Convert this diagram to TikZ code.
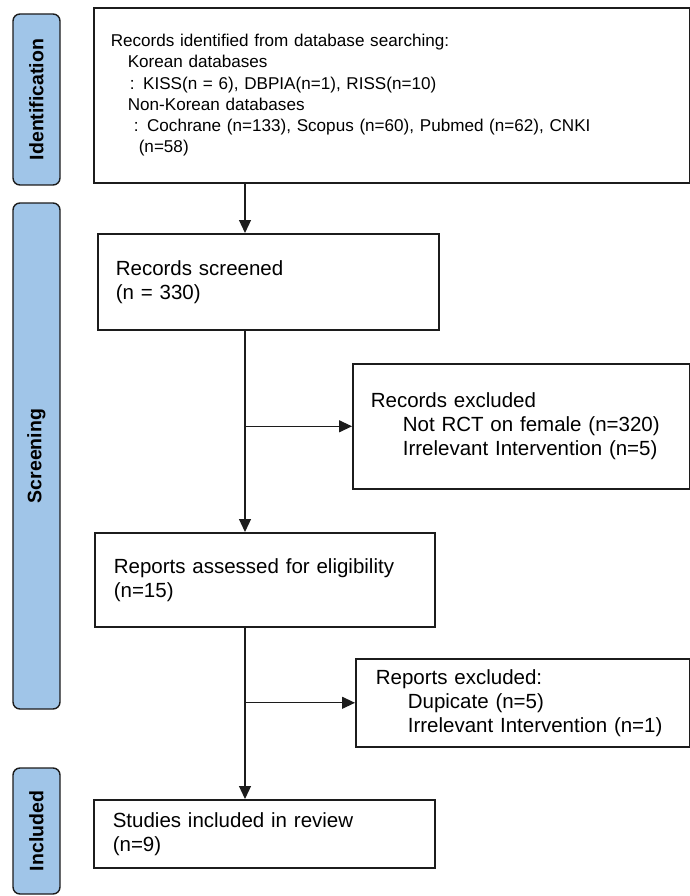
\documentclass[tikz,border=0pt]{standalone}
\usepackage{fontspec}
\setmainfont{Liberation Sans}
\usetikzlibrary{arrows.meta,calc,positioning}
\definecolor{PrismaBlue}{RGB}{160,197,232}
\definecolor{PrismaLine}{RGB}{28,28,28}

\begin{document}
\begin{tikzpicture}[x=1pt,y=-1pt,>={Triangle[length=13pt,width=12pt]},
    font=\fontsize{20.5}{24}\selectfont,
    flowbox/.style={draw=PrismaLine,line width=1.6pt,anchor=north west,align=left,inner ysep=0pt},
    phase/.style={draw=PrismaLine,line width=1.4pt,fill=PrismaBlue,rounded corners=7pt,rotate=90,
      inner sep=0pt,font=\bfseries\fontsize{19.5}{22}\selectfont},
    link/.style={->,line width=1.2pt,PrismaLine}]
  \useasboundingbox (0,0) rectangle (690,896);
  % phase bars on the left
  \node[phase,minimum width=171,minimum height=47] (phaseId) at (36.5,99.5) {Identification};
  \node[phase,minimum width=506,minimum height=47] (phaseScr) at (36.5,456) {Screening};
  \node[phase,minimum width=126,minimum height=47] (phaseInc) at (36.5,831) {Included};
  % flow boxes
  \node[flowbox,inner xsep=17pt,text width=562pt,minimum height=175pt,
    font=\fontsize{17.1}{21.3}\selectfont] (identified) at (93,7)
    {Records identified from database searching:\\
     \hspace*{17pt}Korean databases\\
     \hspace*{19pt}: KISS(n = 6), DBPIA(n=1), RISS(n=10)\\
     \hspace*{17pt}Non-Korean databases\\
     \hspace*{23pt}: Cochrane (n=133), Scopus (n=60), Pubmed (n=62), CNKI\\
     \hspace*{28pt}(n=58)};
  \node[flowbox,inner xsep=18pt,text width=305pt,minimum height=96pt] (screened) at (97,233)
    {Records screened\\(n = 330)};
  \node[flowbox,inner xsep=18pt,text width=301pt,minimum height=125pt] (recexcl) at (352,363)
    {Records excluded\\
     \hspace*{32pt}Not RCT on female (n=320)\\
     \hspace*{32pt}Irrelevant Intervention (n=5)};
  \node[flowbox,inner xsep=19pt,text width=302pt,minimum height=94pt] (assessed) at (94,532)
    {Reports assessed for eligibility\\(n=15)};
  \node[flowbox,inner xsep=20pt,text width=294pt,minimum height=88pt] (repexcl) at (355,658)
    {Reports excluded:\\
     \hspace*{32pt}Dupicate (n=5)\\
     \hspace*{32pt}Irrelevant Intervention (n=1)};
  \node[flowbox,inner xsep=19pt,text width=303pt,minimum height=68pt] (included) at (93,799)
    {Studies included in review\\(n=9)};
  % connectors
  \coordinate (trunk) at (245,0);
  \draw[link] (identified.south -| trunk) -- (screened.north -| trunk);
  \draw[link] (screened.south -| trunk) -- (assessed.north -| trunk);
  \draw[link] (assessed.south -| trunk) -- (included.north -| trunk);
  \draw[link] (trunk |- recexcl.west) -- (recexcl.west);
  \draw[link] (trunk |- repexcl.west) -- (repexcl.west);
\end{tikzpicture}
\end{document}
